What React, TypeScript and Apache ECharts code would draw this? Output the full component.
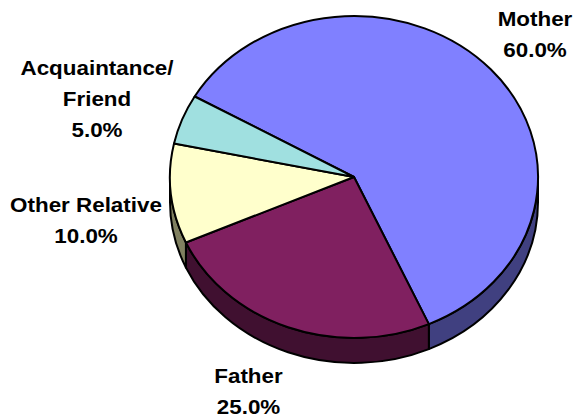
import React, { useEffect, useRef } from "react";
import * as echarts from "echarts";

const categories = ["Mother", "Father", "Other Relative", "Acquaintance/\nFriend"];
const values = [60, 25, 10, 5];
const topColors = ["#8080ff", "#802060", "#ffffcc", "#a0e0e0"];
const wallColors = ["#404080", "#401030", "#808060", "#507070"];

const CX = 354, CY = 177, RX = 184, RY = 161, DEPTH = 25;
const START = 300;
const total = values.reduce((a, b) => a + b, 0);

const pt = (deg: number, dy = 0) => {
  const r = (deg * Math.PI) / 180;
  return [CX + RX * Math.sin(r), CY - RY * Math.cos(r) + dy];
};
const arc = (to: number[], large: boolean, sweep: number) =>
  `A${RX} ${RY} 0 ${large ? 1 : 0} ${sweep} ${to[0]} ${to[1]}`;

const spans: number[][] = [];
values.reduce((acc, v) => {
  const end = acc + (v / total) * 360;
  spans.push([acc, end]);
  return end;
}, START);

function wallPath(a0: number, a1: number) {
  const parts: string[] = [];
  for (const k of [0, 360]) {
    const s = Math.max(a0, 90 + k), e = Math.min(a1, 270 + k);
    if (e <= s) continue;
    const p0 = pt(s), p1 = pt(e), q1 = pt(e, DEPTH), q0 = pt(s, DEPTH);
    parts.push(
      `M${p0[0]} ${p0[1]} ${arc(p1, e - s > 180, 1)} L${q1[0]} ${q1[1]} ${arc(q0, e - s > 180, 0)} Z`
    );
  }
  return parts.join(" ");
}
function slicePath(a0: number, a1: number) {
  const p0 = pt(a0), p1 = pt(a1);
  return `M${CX} ${CY} L${p0[0]} ${p0[1]} ${arc(p1, a1 - a0 > 180, 1)} Z`;
}

const labelPos = [
  [535, 3.5],
  [248.5, 360.5],
  [86, 189.5],
  [97, 52.5],
];

export default function App() {
  const ref = useRef<HTMLDivElement>(null);
  useEffect(() => {
    const chart = echarts.init(ref.current!, null, { renderer: "svg" });
    const lineStyle = { stroke: "#000", lineWidth: 2, lineJoin: "round" };
    const wallData = values.map((v, i) => ({ value: v, name: categories[i] }));
    chart.setOption({
      animation: false,
      backgroundColor: "#fff",
      series: [
        {
          type: "custom",
          coordinateSystem: "none",
          silent: true,
          data: wallData,
          z: 1,
          renderItem: (p: any) => {
            const [a0, a1] = spans[p.dataIndex];
            const d = wallPath(a0, a1);
            if (!d) return { type: "group", children: [] };
            return {
              type: "path",
              shape: { pathData: d },
              style: { fill: wallColors[p.dataIndex], ...lineStyle },
            };
          },
        },
        {
          type: "custom",
          coordinateSystem: "none",
          silent: true,
          data: wallData,
          z: 2,
          renderItem: (p: any) => {
            const [a0, a1] = spans[p.dataIndex];
            return {
              type: "path",
              shape: { pathData: slicePath(a0, a1) },
              style: { fill: topColors[p.dataIndex], ...lineStyle },
            };
          },
        },
      ],
      graphic: categories.map((c, i) => ({
        type: "text",
        x: labelPos[i][0],
        y: labelPos[i][1],
        scaleX: 1.12,
        z: 5,
        style: {
          text: `${c}\n${((values[i] / total) * 100).toFixed(1)}%`,
          fill: "#000",
          font: 'bold 20px "Liberation Sans", Arial, sans-serif',
          align: "center",
          lineHeight: 31,
        },
      })),
    });
    return () => chart.dispose();
  }, []);
  return <div ref={ref} style={{ width: 576, height: 416, position: "absolute", left: 0, top: 0 }} />;
}
